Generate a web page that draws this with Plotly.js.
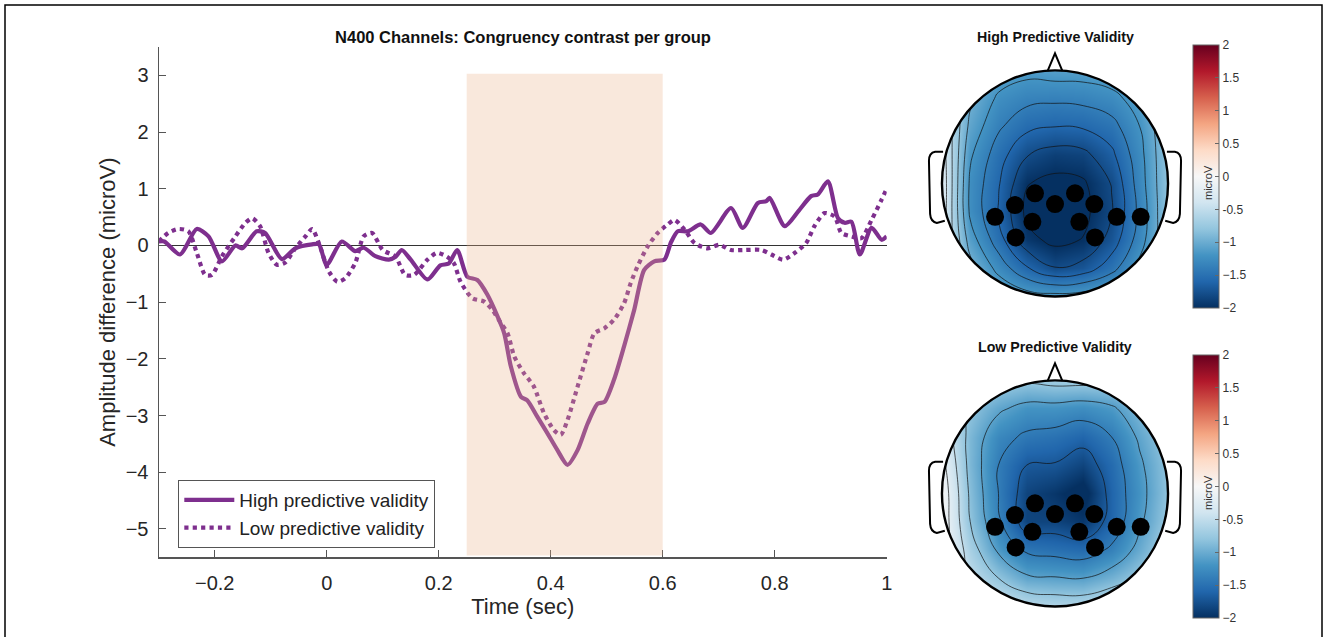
<!DOCTYPE html>
<html>
<head>
<meta charset="utf-8">
<script src="https://cdn.plot.ly/plotly-3.0.1.min.js"></script>
<style>html,body{margin:0;padding:0;background:#fff;}#chart{width:1327px;height:637px;}</style>
</head>
<body>
<div id="chart"></div>
<script>
// ---------- ERP time courses ----------
const highT = [-0.30,-0.29,-0.262,-0.232,-0.211,-0.187,-0.163,-0.151,-0.125,-0.110,-0.080,-0.056,-0.026,-0.014,0.000,0.027,0.051,0.066,0.087,0.111,0.123,0.134,0.150,0.180,0.203,0.218,0.233,0.251,0.269,0.287,0.305,0.317,0.329,0.347,0.358,0.376,0.394,0.412,0.430,0.448,0.466,0.484,0.496,0.513,0.531,0.549,0.567,0.585,0.603,0.615,0.627,0.645,0.668,0.686,0.722,0.743,0.770,0.785,0.791,0.818,0.842,0.865,0.877,0.895,0.913,0.925,0.937,0.952,0.973,0.991,1.000];
const highV = [0.07,0.07,-0.16,0.29,0.16,-0.28,0.0,-0.05,0.25,0.22,-0.24,-0.05,0.02,0.02,-0.34,0.07,-0.10,-0.04,-0.19,-0.25,-0.20,-0.08,-0.25,-0.60,-0.35,-0.32,-0.08,-0.55,-0.61,-0.87,-1.25,-1.55,-2.14,-2.67,-2.73,-3.02,-3.31,-3.61,-3.87,-3.61,-3.14,-2.79,-2.76,-2.37,-1.78,-1.14,-0.43,-0.28,-0.25,0.06,0.25,0.25,0.37,0.22,0.66,0.31,0.75,0.78,0.84,0.34,0.60,0.87,0.90,1.13,0.48,0.40,0.42,-0.16,0.31,0.10,0.16];

const lowT = [-0.30,-0.283,-0.265,-0.247,-0.232,-0.217,-0.205,-0.187,-0.163,-0.145,-0.133,-0.119,-0.104,-0.089,-0.074,-0.056,-0.038,-0.026,-0.014,0.004,0.019,0.033,0.051,0.066,0.081,0.100,0.123,0.140,0.156,0.180,0.197,0.215,0.227,0.239,0.260,0.281,0.296,0.311,0.323,0.335,0.352,0.370,0.388,0.406,0.418,0.430,0.448,0.466,0.478,0.496,0.513,0.531,0.543,0.555,0.573,0.591,0.609,0.621,0.639,0.657,0.680,0.701,0.722,0.746,0.776,0.794,0.815,0.836,0.856,0.871,0.889,0.907,0.919,0.937,0.955,0.973,0.991,1.000];
const lowV = [0.07,0.22,0.29,0.25,-0.13,-0.52,-0.52,-0.19,0.16,0.40,0.48,0.34,-0.13,-0.34,-0.30,-0.05,0.16,0.29,0.04,-0.46,-0.64,-0.58,-0.31,0.16,0.22,-0.08,-0.20,-0.52,-0.52,-0.25,-0.13,-0.20,-0.31,-0.64,-0.93,-0.99,-1.14,-1.37,-1.55,-1.96,-2.25,-2.49,-2.96,-3.26,-3.34,-3.08,-2.49,-1.90,-1.55,-1.46,-1.31,-1.02,-0.66,-0.37,-0.02,0.22,0.37,0.45,0.28,0.04,-0.05,0.01,-0.08,-0.08,-0.08,-0.16,-0.25,-0.13,0.04,0.34,0.57,0.51,0.22,0.16,0.13,0.45,0.81,1.00];

const seriesNames = ['High predictive validity', 'Low predictive validity'];
const windowStart = 0.25, windowEnd = 0.6, windowTop = 3.03;
const xTicks = [-0.2, 0, 0.2, 0.4, 0.6, 0.8, 1];
const yTicks = [-5, -4, -3, -2, -1, 0, 1, 2, 3];

const gridX = [-1, -0.75, -0.5, -0.25, 0, 0.25, 0.5, 0.75, 1];
const gridY = [-1, -0.75, -0.5, -0.25, 0, 0.25, 0.5, 0.75, 1];
const highTopo = [
  [-0.40,-0.82,-0.99,-1.10,-1.13,-1.10,-1.03,-0.92,-0.75],
  [-0.35,-0.92,-1.27,-1.58,-1.79,-1.72,-1.48,-1.13,-0.80],
  [-0.30,-1.10,-1.51,-1.93,-2.06,-1.99,-1.72,-1.30,-0.80],
  [-0.25,-1.24,-1.61,-2.05,-2.10,-2.06,-1.82,-1.34,-0.80],
  [-0.24,-1.24,-1.58,-1.99,-2.06,-2.03,-1.79,-1.30,-0.80],
  [-0.28,-1.17,-1.51,-1.79,-1.89,-1.86,-1.65,-1.27,-0.80],
  [-0.35,-1.06,-1.37,-1.55,-1.60,-1.58,-1.48,-1.20,-0.80],
  [-0.45,-0.96,-1.24,-1.34,-1.36,-1.34,-1.27,-1.10,-0.80],
  [-0.55,-0.86,-1.06,-1.13,-1.10,-1.10,-1.06,-0.96,-0.75]
];
const lowTopo = [
  [ 0.00,-0.30,-0.40,-0.55,-0.60,-0.60,-0.50,-0.40,-0.30],
  [ 0.00,-0.50,-0.80,-1.05,-1.08,-1.10,-0.95,-0.75,-0.50],
  [ 0.00,-0.65,-1.15,-1.45,-1.50,-1.55,-1.35,-1.00,-0.65],
  [ 0.00,-0.80,-1.35,-1.85,-1.85,-1.95,-1.60,-1.15,-0.75],
  [ 0.00,-0.85,-1.40,-1.85,-1.95,-2.10,-1.60,-1.20,-0.80],
  [-0.10,-0.90,-1.40,-1.70,-1.72,-1.85,-1.55,-1.15,-0.80],
  [-0.25,-0.90,-1.30,-1.45,-1.50,-1.60,-1.40,-1.05,-0.75],
  [-0.35,-0.80,-1.05,-1.20,-1.20,-1.25,-1.15,-0.90,-0.65],
  [-0.40,-0.60,-0.70,-0.75,-0.70,-0.70,-0.70,-0.60,-0.50]
];
const highLevels = {start: -2.0, end: -0.4, size: 0.2};
const lowLevels = {start: -1.7, end: -0.2, size: 0.3};
const elecX = [-0.53,-0.354,-0.177,0,0.177,0.348,0.546,0.758,-0.20,0.215,-0.348,0.354];
const elecY = [-0.296,-0.192,-0.088,-0.183,-0.088,-0.183,-0.296,-0.296,-0.34,-0.34,-0.478,-0.478];
const topoTitles = ['High Predictive Validity', 'Low Predictive Validity'];
const cbTickVals = [-2,-1.5,-1,-0.5,0,0.5,1,1.5,2];
const cbTickText = ['\u22122','\u22121.5','\u22121','-0.5','0','0.5','1','1.5','2'];
const cbTitle = 'microV';

// ---------- styling ----------
const W = 1327, H = 637;
const px = v => v / W, py = v => 1 - v / H;
const purple = 'rgb(126,47,142)';
const rdbu = [[0,'#053061'],[0.1,'#2166ac'],[0.2,'#4393c3'],[0.3,'#92c5de'],[0.4,'#d1e5f0'],[0.5,'#f7f7f7'],[0.6,'#fddbc7'],[0.7,'#f4a582'],[0.8,'#d6604d'],[0.9,'#b2182b'],[1,'#67001f']];
const FONT = 'Liberation Sans, Arial, Helvetica, sans-serif';

function cb(yc) {
  return {x: px(1193), xanchor: 'left', y: py(yc), yanchor: 'middle', len: 263, lenmode: 'pixels',
    thickness: 26, thicknessmode: 'pixels', xpad: 0, ypad: 0, outlinecolor: '#666', outlinewidth: 1,
    ticks: 'inside', ticklen: 4, tickcolor: '#666', tickvals: cbTickVals, ticktext: cbTickText,
    tickfont: {size: 12, color: '#333', family: FONT}};
}

const traces = [
  {type:'scatter', mode:'lines', x: highT, y: highV, name: seriesNames[0],
   line:{color: purple, width: 4.2, shape:'spline', smoothing: 0.7}, xaxis:'x', yaxis:'y'},
  {type:'scatter', mode:'lines', x: lowT, y: lowV, name: seriesNames[1],
   line:{color: purple, width: 4.2, dash:'dot', shape:'spline', smoothing: 0.7}, xaxis:'x', yaxis:'y'}
];

const topoSets = [highTopo, lowTopo];
const topoLevels = [highLevels, lowLevels];
const topoAxes = [['x2','y2'], ['x3','y3']];
const cbCenters = [176.5, 486.5];
topoSets.forEach((z, i) => {
  traces.push({type:'heatmap', x: gridX, y: gridY, z: z, zsmooth:'best', colorscale: rdbu,
    zmin:-2, zmax:2, zauto:false, xaxis: topoAxes[i][0], yaxis: topoAxes[i][1],
    colorbar: cb(cbCenters[i]), showlegend:false, hoverinfo:'skip'});
  traces.push({type:'contour', x: gridX, y: gridY, z: z, autocontour:false,
    contours: Object.assign({coloring:'none', showlines:true}, topoLevels[i]),
    line:{color:'#111', width:0.7, smoothing:1.3}, showscale:false, showlegend:false,
    xaxis: topoAxes[i][0], yaxis: topoAxes[i][1], hoverinfo:'skip'});
  traces.push({type:'scatter', mode:'markers', x: elecX, y: elecY, marker:{color:'#000', size:18},
    showlegend:false, xaxis: topoAxes[i][0], yaxis: topoAxes[i][1], hoverinfo:'skip'});
});

const k = 0.5523;
const circlePath = `M 1 0 C 1 ${k} ${k} 1 0 1 C ${-k} 1 -1 ${k} -1 0 C -1 ${-k} ${-k} -1 0 -1 C ${k} -1 1 ${-k} 1 0 Z`;
const maskPath = 'M -1.4 -1.4 L 1.4 -1.4 L 1.4 1.4 L -1.4 1.4 Z ' + circlePath;
const nosePath = 'M -0.065 0.995 L 0 1.15 L 0.065 0.995';
const leftEar = 'M -0.99 0.28 L -1.06 0.28 Q -1.115 0.27 -1.115 0.2 L -1.105 -0.27 Q -1.10 -0.34 -1.045 -0.35 L -0.975 -0.33';
const rightEar = 'M 0.99 0.28 L 1.06 0.28 Q 1.115 0.27 1.115 0.2 L 1.105 -0.27 Q 1.10 -0.34 1.045 -0.35 L 0.975 -0.33';

const shapes = [
  {type:'rect', xref:'x', yref:'y', x0: windowStart, x1: windowEnd, y0: -5.47, y1: windowTop,
   fillcolor:'rgb(234,178,138)', opacity:0.3, line:{width:0}, layer:'above'},
  {type:'path', xref:'paper', yref:'paper', path:`M ${px(5)} 0 L ${px(5)} ${py(5)} L ${px(1322)} ${py(5)} L ${px(1322)} 0`,
   line:{color:'#000', width:1.5}}
];
topoAxes.forEach(([xa, ya]) => {
  shapes.push({type:'path', xref:xa, yref:ya, path: maskPath, fillcolor:'#fff', fillrule:'evenodd', line:{width:0}, layer:'above'});
  shapes.push({type:'path', xref:xa, yref:ya, path: circlePath, line:{color:'#000', width:2.4}, layer:'above'});
  shapes.push({type:'path', xref:xa, yref:ya, path: nosePath, line:{color:'#000', width:2}, layer:'above'});
  shapes.push({type:'path', xref:xa, yref:ya, path: leftEar, line:{color:'#000', width:2}, layer:'above'});
  shapes.push({type:'path', xref:xa, yref:ya, path: rightEar, line:{color:'#000', width:2}, layer:'above'});
});

const topoAxis = (dom, rng) => ({domain: dom, range: rng, visible:false, fixedrange:true, showgrid:false, zeroline:false});

const layout = {
  width: W, height: H,
  margin: {l:0, r:0, t:0, b:0},
  paper_bgcolor:'#fff', plot_bgcolor:'rgba(0,0,0,0)',
  font: {family: FONT, color:'#262626'},
  title: {text:'<b>N400 Channels: Congruency contrast per group</b>', xref:'container', yref:'container',
          x: px(523), xanchor:'center', y: py(37), yanchor:'middle', font:{size:16.5, color:'#111', family: FONT}},
  showlegend: true,
  legend: {x: px(178.3), y: py(480), xanchor:'left', yanchor:'top', bgcolor:'#fff', bordercolor:'#555', borderwidth:1,
           font:{size:19, color:'#222', family: FONT}, itemwidth: 50, tracegroupgap: 0},
  xaxis: {domain:[px(158.7), px(886.7)], range:[-0.3, 1], tickvals: xTicks, ticks:'inside', ticklen:7, tickcolor:'#555',
          showline:true, linecolor:'#555', linewidth:1.2, showgrid:false, zeroline:false, tickfont:{size:20},
          ticklabelstandoff: 7, title:{text:'Time (sec)', font:{size:22}, standoff: 6}, anchor:'y', fixedrange:true},
  yaxis: {domain:[py(557.3), py(47)], range:[-5.5, 3.5], tickvals: yTicks, ticks:'inside', ticklen:7, tickcolor:'#555',
          showline:true, linecolor:'#555', linewidth:1.2, showgrid:false, zeroline:true, zerolinecolor:'#333', zerolinewidth:1,
          tickfont:{size:20}, ticklabelstandoff: 5, title:{text:'Amplitude difference (microV)', font:{size:22}, standoff: 4},
          anchor:'x', fixedrange:true},
  xaxis2: Object.assign(topoAxis([px(925), px(1185)], [-1.15, 1.15]), {anchor:'y2'}),
  yaxis2: Object.assign(topoAxis([py(310), py(50)], [-1.12, 1.18]), {anchor:'x2'}),
  xaxis3: Object.assign(topoAxis([px(925), px(1185)], [-1.15, 1.15]), {anchor:'y3'}),
  yaxis3: Object.assign(topoAxis([py(620), py(360)], [-1.12, 1.18]), {anchor:'x3'}),
  shapes: shapes,
  annotations: [
    {text:'<b>' + topoTitles[0] + '</b>', xref:'paper', yref:'paper', x: px(1055), y: py(36.7), xanchor:'center', yanchor:'middle', showarrow:false, font:{size:14.2, color:'#111'}},
    {text:'<b>' + topoTitles[1] + '</b>', xref:'paper', yref:'paper', x: px(1055), y: py(346.7), xanchor:'center', yanchor:'middle', showarrow:false, font:{size:14.2, color:'#111'}},
    {text: cbTitle, xref:'paper', yref:'paper', x: px(1208), y: py(183), textangle:-90, xanchor:'center', yanchor:'middle', showarrow:false, font:{size:11, color:'#333'}},
    {text: cbTitle, xref:'paper', yref:'paper', x: px(1208), y: py(493), textangle:-90, xanchor:'center', yanchor:'middle', showarrow:false, font:{size:11, color:'#333'}}
  ],
  hovermode: false
};

Plotly.newPlot('chart', traces, layout, {displayModeBar:false, staticPlot:true});
</script>
</body>
</html>
